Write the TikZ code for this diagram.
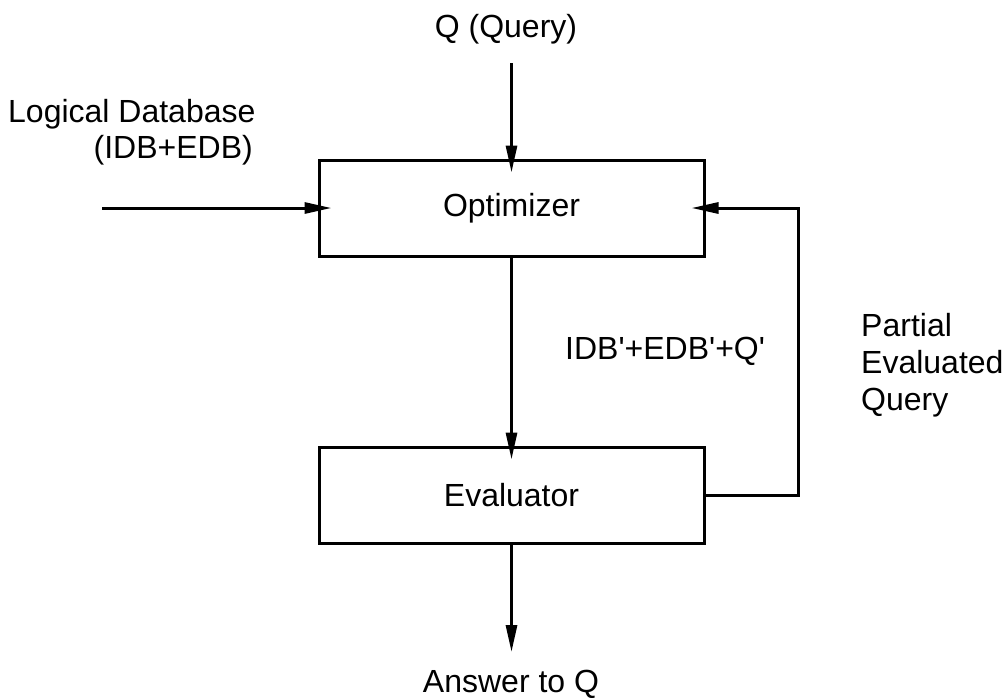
\documentclass[tikz,border=0pt]{standalone}
\usepackage{fontspec}
\setmainfont{Liberation Sans}[Ligatures=TeXOff]
\usetikzlibrary{arrows.meta}
\begin{document}
\begin{tikzpicture}[x=1pt,y=-1pt,
  box/.style={draw,line width=3pt,minimum width=385pt,minimum height=96pt,inner sep=0pt,font=\fontsize{32}{37}\selectfont},
  lbl/.style={inner sep=0pt,font=\fontsize{32}{37}\selectfont},
  arr/.style={line width=3pt,-{Triangle[length=27pt,width=11pt]}},
  into/.style={shorten >=-14pt},
  wire/.style={line width=3pt}]
\useasboundingbox (0,0) rectangle (1003,697);
\node[box] (opt) at (511.5,208) {Optimizer};
\node[box] (eval) at (511.5,495) {Evaluator};
\node[lbl,anchor=base] (q) at (506,37) {Q (Query)};
\node[lbl,anchor=base west] (ld1) at (8,122) {Logical Database};
\node[lbl,anchor=base east] (ld2) at (253,158) {(IDB+EDB)};
\node[lbl,anchor=base west] (mid) at (565,359) {IDB'+EDB'+Q'};
\node[lbl,anchor=north west,align=left] (peq) at (861,312.7) {Partial\\Evaluated\\Query};
\node[lbl,anchor=base] (ans) at (511,692) {Answer to Q};
\coordinate (qs) at (511.5,63);
\coordinate (ls) at (102,208);
\coordinate (fb1) at (798,495);
\coordinate (fb2) at (798,208);
\coordinate (aq) at (511.5,652);
\draw[arr,into] (qs) -- (opt.north);
\draw[arr,into] (ls) -- (opt.west);
\draw[arr,into] (opt.south) -- (eval.north);
\draw[arr,into,line join=miter] (eval.east) -- (fb1) -- (fb2) -- (opt.east);
\draw[arr] (eval.south) -- (aq);
\end{tikzpicture}
\end{document}
